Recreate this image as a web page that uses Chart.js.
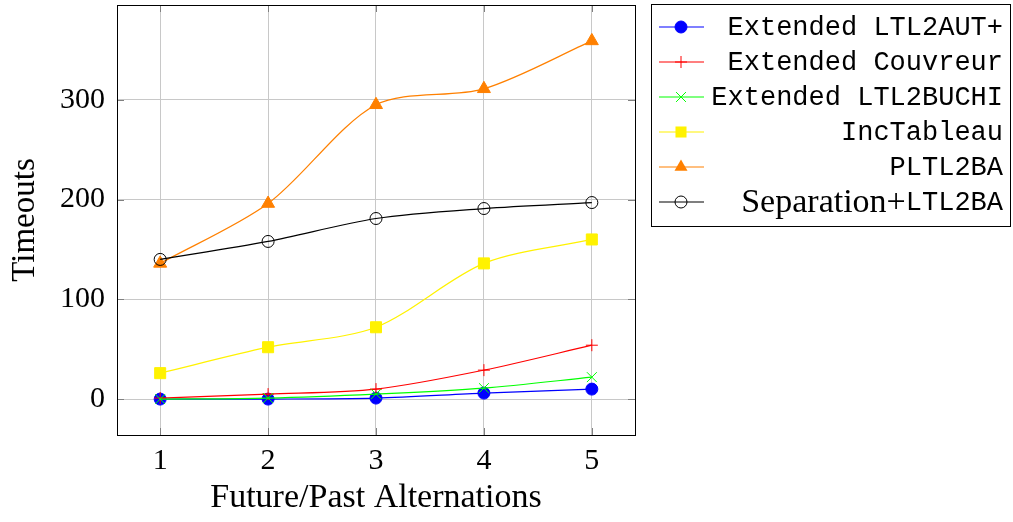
<!DOCTYPE html>
<html>
<head>
<meta charset="utf-8">
<script src="https://cdn.jsdelivr.net/npm/chart.js@4.4.0/dist/chart.umd.min.js"></script>
<style>
  html, body { margin: 0; padding: 0; background: #fff; }
  canvas { display: block; }
</style>
</head>
<body>
<canvas id="timeouts-chart" width="1013" height="522"></canvas>
<script>
// values
const alternations = [1, 2, 3, 4, 5];
const ltl2autPlus = [0, 0, 1, 6, 10];
const couvreur = [1, 5, 10, 29, 54];
const ltl2buchi = [0, 1, 5, 11, 22];
const incTableau = [26, 52, 72, 136, 160];
const pltl2ba = [136, 196, 295, 311, 359];
const separation = [140, 158, 181, 191, 197];
const yTicks = [0, 100, 200, 300];

const SERIF = "'Liberation Serif', 'Times New Roman', serif";
const MONO = "'Liberation Mono', 'DejaVu Sans Mono', monospace";

function toPoints(values)
{
	return alternations.map((a, i) => ({ x: a, y: values[i] }));
}

// label parts: [serif part, mono part]
const series =
[
	{ label: ["", "Extended LTL2AUT+"], values: ltl2autPlus, color: "#0000ff", style: "circle", radius: 6, fill: "#0000ff" },
	{ label: ["", "Extended Couvreur"], values: couvreur, color: "#ff0000", style: "cross", radius: 6, fill: "#ff0000" },
	{ label: ["", "Extended LTL2BUCHI"], values: ltl2buchi, color: "#00ff00", style: "crossRot", radius: 7, fill: "#00ff00" },
	{ label: ["", "IncTableau"], values: incTableau, color: "#fff200", style: "rect", radius: 7.8, fill: "#fff200" },
	{ label: ["", "PLTL2BA"], values: pltl2ba, color: "#ff8000", style: "triangle", radius: 7.5, fill: "#ff8000" },
	{ label: ["Separation+", "LTL2BA"], values: separation, color: "#000000", style: "circle", radius: 6, fill: "rgba(0,0,0,0)" }
];

const datasets = series.map((s, i) => ({
	label: s.label.join(""),
	data: toPoints(s.values),
	borderColor: s.color,
	backgroundColor: s.fill,
	borderWidth: 1.2,
	tension: 0.3,
	pointStyle: s.style,
	pointRadius: s.radius,
	pointBorderColor: s.color,
	pointBackgroundColor: s.fill,
	pointBorderWidth: 1,
	order: series.length - i,
	clip: false
}));

function drawMark(ctx, s, x, y)
{
	const r = s.radius;
	ctx.save();
	ctx.strokeStyle = s.color;
	ctx.fillStyle = s.fill;
	ctx.lineWidth = 1;
	ctx.beginPath();
	if (s.style === "circle")
	{
		ctx.arc(x, y, r, 0, Math.PI * 2);
		ctx.fill();
		ctx.stroke();
	}
	else if (s.style === "cross")
	{
		ctx.moveTo(x - r, y); ctx.lineTo(x + r, y);
		ctx.moveTo(x, y - r); ctx.lineTo(x, y + r);
		ctx.stroke();
	}
	else if (s.style === "crossRot")
	{
		const d = r * Math.SQRT1_2;
		ctx.moveTo(x - d, y - d); ctx.lineTo(x + d, y + d);
		ctx.moveTo(x - d, y + d); ctx.lineTo(x + d, y - d);
		ctx.stroke();
	}
	else if (s.style === "rect")
	{
		const d = r * Math.SQRT1_2;
		ctx.rect(x - d, y - d, 2 * d, 2 * d);
		ctx.fill();
	}
	else if (s.style === "triangle")
	{
		for (let k = 0; k < 3; k++)
		{
			const ang = -Math.PI / 2 + k * 2 * Math.PI / 3;
			const px = x + Math.cos(ang) * r, py = y + Math.sin(ang) * r;
			if (k === 0) ctx.moveTo(px, py); else ctx.lineTo(px, py);
		}
		ctx.closePath();
		ctx.fill();
	}
	ctx.restore();
}

const framePlugin =
{
	id: "frame",
	afterDraw(chart)
	{
		const { ctx, chartArea: a, scales } = chart;
		ctx.save();
		ctx.strokeStyle = "#808080";
		ctx.lineWidth = 1;
		ctx.beginPath();
		for (const v of alternations)
		{
			const px = Math.round(scales.x.getPixelForValue(v)) + 0.5;
			ctx.moveTo(px, a.bottom); ctx.lineTo(px, a.bottom - 7);
			ctx.moveTo(px, a.top); ctx.lineTo(px, a.top + 7);
		}
		for (const v of yTicks)
		{
			const py = Math.round(scales.y.getPixelForValue(v)) + 0.5;
			ctx.moveTo(a.left, py); ctx.lineTo(a.left + 7, py);
			ctx.moveTo(a.right, py); ctx.lineTo(a.right - 7, py);
		}
		ctx.stroke();

		ctx.strokeStyle = "#000";
		ctx.strokeRect(Math.round(a.left) + 0.5, Math.round(a.top) + 0.5, Math.round(a.right - a.left), Math.round(a.bottom - a.top));

		// legend
		ctx.strokeRect(651.5, 4.5, 359, 222);
		const rowY0 = 27, rowStep = 35, textRight = 1003;
		ctx.textBaseline = "middle";
		ctx.textAlign = "right";
		series.forEach((s, i) =>
		{
			const y = rowY0 + i * rowStep;
			ctx.strokeStyle = s.color;
			ctx.lineWidth = 1.2;
			ctx.beginPath();
			ctx.moveTo(659, y); ctx.lineTo(704, y);
			ctx.stroke();
			drawMark(ctx, s, 681, y);

			ctx.fillStyle = "#000";
			ctx.font = "27px " + MONO;
			ctx.fillText(s.label[1], textRight, y + 1);
			if (s.label[0])
			{
				const w = ctx.measureText(s.label[1]).width;
				ctx.font = "34px " + SERIF;
				ctx.fillText(s.label[0], textRight - w, y + 1);
			}
		});
		ctx.restore();
	}
};

function noPadding(s)
{
	s.paddingTop = 0;
	s.paddingBottom = 0;
	s.paddingLeft = 0;
	s.paddingRight = 0;
}

const config =
{
	type: "line",
	data: { datasets: datasets },
	options:
	{
		responsive: false,
		animation: false,
		devicePixelRatio: 1,
		layout: { autoPadding: false, padding: { top: 5, right: 378, left: 0, bottom: 0 } },
		plugins: { legend: { display: false }, tooltip: { enabled: false } },
		scales:
		{
			x:
			{
				type: "linear",
				min: 0.6,
				max: 5.4,
				afterFit: s => { s.height = 87; noPadding(s); },
				afterBuildTicks: s => { s.ticks = alternations.map(v => ({ value: v })); },
				grid: { color: "#c8c8c8", drawTicks: false },
				border: { display: false },
				ticks: { color: "#000", padding: 8, font: { family: SERIF, size: 30 } },
				title: { display: true, text: "Future/Past Alternations", color: "#000", padding: { bottom: 4 }, font: { family: SERIF, size: 34 } }
			},
			y:
			{
				type: "linear",
				min: -36,
				max: 395,
				afterFit: s => { s.width = 117; noPadding(s); },
				afterBuildTicks: s => { s.ticks = yTicks.map(v => ({ value: v })); },
				grid: { color: "#c8c8c8", drawTicks: false },
				border: { display: false },
				ticks: { color: "#000", padding: 12, font: { family: SERIF, size: 30 } },
				title: { display: true, text: "Timeouts", color: "#000", padding: { top: 6 }, font: { family: SERIF, size: 33 } }
			}
		}
	},
	plugins: [framePlugin]
};

new Chart(document.getElementById("timeouts-chart"), config);
</script>
</body>
</html>
